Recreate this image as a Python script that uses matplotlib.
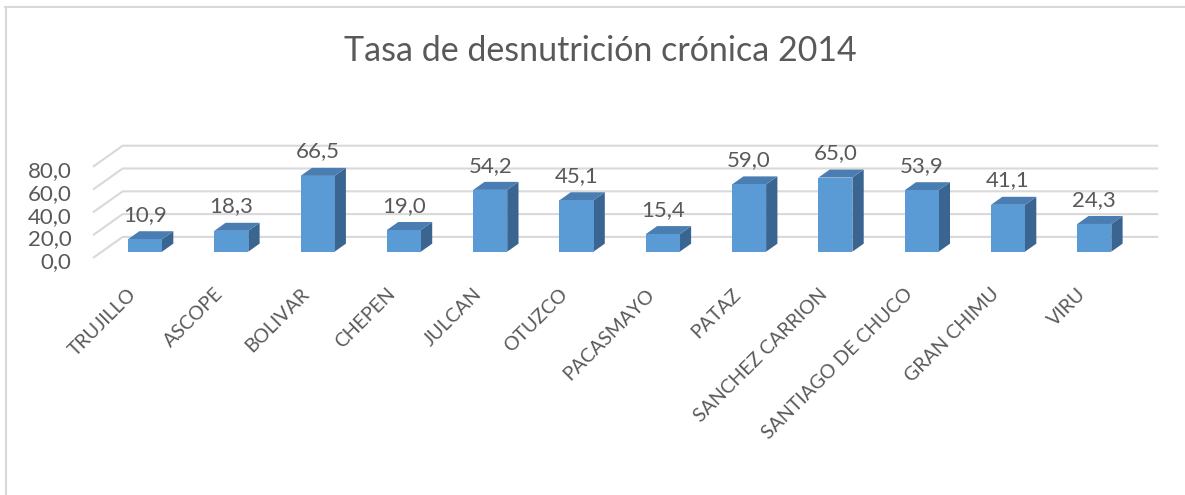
import matplotlib.pyplot as plt
from matplotlib.patches import Polygon
from matplotlib.lines import Line2D

plt.rcParams['font.family'] = ['Lato', 'DejaVu Sans']

# Data
provincias = ['TRUJILLO', 'ASCOPE', 'BOLIVAR', 'CHEPEN', 'JULCAN', 'OTUZCO',
              'PACASMAYO', 'PATAZ', 'SANCHEZ CARRION', 'SANTIAGO DE CHUCO',
              'GRAN CHIMU', 'VIRU']
tasa = [10.9, 18.3, 66.5, 19.0, 54.2, 45.1, 15.4, 59.0, 65.0, 53.9, 41.1, 24.3]
y_ticks = [0, 20, 40, 60, 80]

# fake 3D: depth z in [0, 1] shifts a point right by DX and up by DY
DX, DY = 0.345, 18.5
Z0, Z1 = 0.30, 0.68       # bar front / back depth
BW = 0.394                # bar width
front_c = '#5B9BD5'
top_c = '#4A7DB1'
side_c = '#3A6590'
grid_c = '#D9D9D9'
text_c = '#595959'


def proj(x, v, z):
    return (x + z * DX, v + z * DY)


W, H = 1185, 495
fig = plt.figure(figsize=(W / 100, H / 100), dpi=100)

# axes placement (pixel mapping: 86.3 px per category, 1.14 px per unit)
xlim = (-0.7, 12.0)
ylim = (-5, 105)
px_x, px_y = 86.3, 1.14
left_px = 145 + (xlim[0] - Z0 * DX) * px_x
bottom_px = 258 + 5 * px_y
ax = fig.add_axes([left_px / W, 1 - bottom_px / H,
                   (xlim[1] - xlim[0]) * px_x / W, (ylim[1] - ylim[0]) * px_y / H])
ax.set_xlim(*xlim)
ax.set_ylim(*ylim)
ax.axis('off')

n = len(provincias)
x_left, x_right = -0.5, n - 0.5

# grid: side wall diagonals + back wall lines
for v in y_ticks:
    a = proj(x_left, v, 0)
    b = proj(x_left, v, 1)
    c = proj(x_right, v, 1)
    ax.plot([a[0], b[0], c[0]], [a[1], b[1], c[1]], color=grid_c, lw=1.5,
            zorder=1, solid_capstyle='butt')
    ax.text(a[0] - 0.25, v - 9, f'{v:.1f}'.replace('.', ','), ha='right',
            va='baseline', fontsize=16, color=text_c, clip_on=False)

# bars
for i, v in enumerate(tasa):
    x0, x1 = i - BW / 2, i + BW / 2
    front = [proj(x0, 0, Z0), proj(x1, 0, Z0), proj(x1, v, Z0), proj(x0, v, Z0)]
    top = [proj(x0, v, Z0), proj(x1, v, Z0), proj(x1, v, Z1), proj(x0, v, Z1)]
    side = [proj(x1, 0, Z0), proj(x1, 0, Z1), proj(x1, v, Z1), proj(x1, v, Z0)]
    ax.add_patch(Polygon(side, closed=True, facecolor=side_c, edgecolor='none', zorder=2))
    ax.add_patch(Polygon(top, closed=True, facecolor=top_c, edgecolor='none', zorder=2))
    ax.add_patch(Polygon(front, closed=True, facecolor=front_c, edgecolor='none', zorder=3))

    fx, _ = proj(i, v, Z0)
    ax.text(fx, v + Z1 * DY + 9, f'{v:.1f}'.replace('.', ','), ha='center',
            va='baseline', fontsize=16, color=text_c, zorder=4)

    lx, _ = proj(i - 0.20, 0, Z0)
    ax.text(lx, -24, provincias[i], rotation=45, rotation_mode='anchor',
            ha='right', va='top', fontsize=14, color=text_c, clip_on=False)

fig.text(600 / W, 1 - 51 / H, 'Tasa de desnutrición crónica 2014', ha='center',
         va='center', fontsize=24.5, color=text_c)

# chart area border (top and left edges visible)
fig.add_artist(Line2D([5 / W, 1], [1 - 7 / H, 1 - 7 / H], color=grid_c, lw=1.5,
                      transform=fig.transFigure))
fig.add_artist(Line2D([5.5 / W, 5.5 / W], [0, 1 - 7 / H], color=grid_c, lw=1.5,
                      transform=fig.transFigure))

fig.savefig('out.png', dpi=100)
